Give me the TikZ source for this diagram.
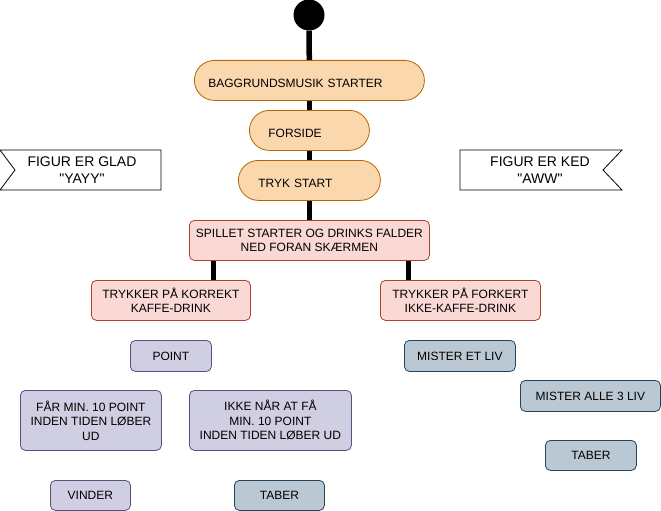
\documentclass[tikz,border=0pt]{standalone}
\usepackage{fontspec}
\setmainfont{Liberation Sans}[Ligatures=TeXOff]
\usetikzlibrary{positioning}
\definecolor{orangefill}{HTML}{FAD7AC}
\definecolor{orangeline}{HTML}{B46504}
\definecolor{redfill}{HTML}{FAD9D5}
\definecolor{redline}{HTML}{AE4132}
\definecolor{purplefill}{HTML}{D0CEE2}
\definecolor{purpleline}{HTML}{56517E}
\definecolor{bluefill}{HTML}{BAC8D3}
\definecolor{blueline}{HTML}{23445D}

\begin{document}
\begin{tikzpicture}[x=1pt, y=-1pt, font=\fontsize{12}{14.5}\selectfont,
    box/.style={draw, line width=0.8pt, rounded corners=5pt, anchor=north west, align=center, inner sep=0pt},
    pill/.style={box, draw=orangeline, fill=orangefill, rounded corners=20pt, align=left, minimum height=40pt, text height=14.6pt, text depth=0pt},
    redbox/.style={box, draw=redline, fill=redfill},
    purplebox/.style={box, draw=purpleline, fill=purplefill},
    bluebox/.style={box, draw=blueline, fill=bluefill},
    flag/.style={draw, line width=0.8pt},
    flagtext/.style={align=center, font=\fontsize{14}{17}\selectfont},
    stem/.style={line width=5.5pt},
    dot/.style={circle, fill=black, minimum size=31pt, inner sep=0pt}]

    \useasboundingbox (0,0) rectangle (661,511);

    \node[dot] (start) at (309,15) {};
    \node[pill, inner xsep=14pt, text width=202pt] (musik) at (194,60) {BAGGRUNDSMUSIK STARTER};
    \node[pill, inner xsep=19pt, text width=82pt] (forside) at (249,110) {FORSIDE};
    \node[pill, inner xsep=20pt, text width=102pt] (tryk) at (238,160) {TRYK START};

    \node[redbox, minimum width=240pt, minimum height=40pt] (spillet) at (189,220) {SPILLET STARTER OG DRINKS FALDER\\NED FORAN SKÆRMEN};
    \node[redbox, minimum width=159pt, minimum height=40pt] (korrekt) at (91,280) {TRYKKER PÅ KORREKT\\KAFFE-DRINK};
    \node[redbox, minimum width=160pt, minimum height=40pt] (forkert) at (380,280) {TRYKKER PÅ FORKERT\\IKKE-KAFFE-DRINK};

    \draw[stem] (start) -- (musik);
    \draw[stem] (musik) -- (forside);
    \draw[stem] (forside) -- (tryk);
    \draw[stem] (tryk) -- (spillet);
    \draw[stem] ([xshift=-96pt]spillet.south) -- ([xshift=-96pt]spillet.south |- korrekt.north);
    \draw[stem] ([xshift=99pt]spillet.south) -- ([xshift=99pt]spillet.south |- forkert.north);

    % flags
    \draw[flag] (0,150) -- (161,150) -- (161,190) -- (0,190) -- (15,170) -- cycle;
    \node[flagtext] (glad) at (82,170) {FIGUR ER GLAD\\"YAYY"};
    \draw[flag] (460,150) -- (622,150) -- (603,170) -- (622,190) -- (460,190) -- cycle;
    \node[flagtext] (ked) at (540,170) {FIGUR ER KED\\"AWW"};

    % left side
    \node[purplebox, minimum width=81pt, minimum height=31pt] (point) at (130,340) {POINT};
    \node[purplebox, minimum width=141pt, minimum height=60pt] (faar) at (20,390) {FÅR MIN. 10 POINT\\INDEN TIDEN LØBER\\UD};
    \node[purplebox, minimum width=162pt, minimum height=60pt] (ikkenaar) at (189,390) {IKKE NÅR AT FÅ\\MIN. 10 POINT\\INDEN TIDEN LØBER UD};
    \node[purplebox, minimum width=80pt, minimum height=30pt] (vinder) at (50,480) {VINDER};
    \node[bluebox, minimum width=90pt, minimum height=30pt] (taberA) at (234,480) {TABER};

    % right side
    \node[bluebox, minimum width=111pt, minimum height=31pt] (etliv) at (404,340) {MISTER ET LIV};
    \node[bluebox, minimum width=140pt, minimum height=31pt] (alleliv) at (520,380) {MISTER ALLE 3 LIV};
    \node[bluebox, minimum width=91pt, minimum height=30pt] (taberB) at (545,440) {TABER};

\end{tikzpicture}
\end{document}
